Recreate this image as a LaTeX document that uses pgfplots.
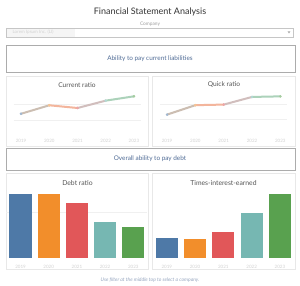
\documentclass[border=0pt]{standalone}
\usepackage{fontspec}
\setmainfont{Lato}
\usepackage{pgfplots}
\pgfplotsset{compat=1.18}
\definecolor{tabblue}{RGB}{78,121,167}
\definecolor{taborange}{RGB}{242,142,43}
\definecolor{tabred}{RGB}{225,87,89}
\definecolor{tabteal}{RGB}{118,183,178}
\definecolor{tabgreen}{RGB}{89,161,79}
\definecolor{pblue}{RGB}{160,184,210}
\definecolor{porange}{RGB}{248,196,146}
\definecolor{pred}{RGB}{238,165,166}
\definecolor{pteal}{RGB}{180,216,213}
\definecolor{pgreen}{RGB}{164,204,158}
\definecolor{titlec}{RGB}{51,51,51}
\definecolor{boxtext}{RGB}{80,108,150}
\definecolor{foot}{RGB}{150,166,192}
\definecolor{panelt}{RGB}{85,85,85}
\pgfplotsset{
  dash/.style={scale only axis, anchor=south west, clip=false,
    axis line style={draw=none}, tick style={draw=none},
    yticklabels={}, xtick={0,1,2,3,4},
    xticklabels={2019,2020,2021,2022,2023},
    x tick label style={font=\fontsize{4.5}{5}\selectfont, text=gray!35},
    ymajorgrids, grid style={gray!12, line width=0.4pt},
    colormap={pastel}{rgb255=(160,184,210) rgb255=(248,196,146) rgb255=(238,165,166) rgb255=(180,216,213) rgb255=(164,204,158)}},
  pastel/.style={mesh, point meta=x, line width=2pt, line cap=round, line join=round},
  pt/.style={only marks, mark=*, mark size=1.1pt, color=#1, mark options={draw=none, fill=#1}},
}
\begin{document}
\begin{tikzpicture}[x=1pt,y=1pt]
\path[use as bounding box, fill=white] (0,0) rectangle (300,285);
% header
\node[font=\fontsize{9}{10}\selectfont, text=titlec] at (150,273) {Financial Statement Analysis};
\node[font=\fontsize{4.8}{5}\selectfont, text=gray!75] at (150,260.5) {Company};
\draw[gray!45, line width=0.4pt] (6.5,248) rectangle (293.5,257);
\fill[gray!8] (7,248.5) rectangle (75,256.5);
\node[font=\fontsize{4.5}{5}\selectfont, text=gray!35, anchor=west] at (9,252.5) {Lorem Ipsum Inc. (LI)};
\fill[gray!70] (287.6,253.6) -- (290.4,253.6) -- (289,251.6) -- cycle;
% section boxes
\draw[gray!65, line width=0.7pt] (6,213) rectangle (295,240);
\node[font=\fontsize{6.4}{7}\selectfont, text=boxtext] at (150,226.5) {Ability to pay current liabilities};
\draw[gray!65, line width=0.7pt] (6,115) rectangle (295,137);
\node[font=\fontsize{6.4}{7}\selectfont, text=boxtext] at (150,126) {Overall ability to pay debt};
% panels
\draw[gray!18, line width=0.5pt] (6,139) rectangle (148,209);
\draw[gray!18, line width=0.5pt] (152,139) rectangle (295,209);
\draw[gray!18, line width=0.5pt] (6,16) rectangle (148,112);
\draw[gray!18, line width=0.5pt] (152,16) rectangle (295,112);
\node[font=\fontsize{6.6}{7}\selectfont, text=panelt] at (77,200) {Current ratio};
\node[font=\fontsize{6.6}{7}\selectfont, text=panelt] at (224,200) {Quick ratio};
\node[font=\fontsize{6.8}{7}\selectfont, text=panelt] at (77.5,102.3) {Debt ratio};
\node[font=\fontsize{6.8}{7}\selectfont, text=panelt] at (223.5,102.3) {Times-interest-earned};
% current ratio
\begin{axis}[dash, at={(14pt,149pt)}, width=127pt, height=46pt,
  xmin=-0.25, xmax=4.25, ymin=0, ymax=2.875, ytick={1,2}]
\addplot[pastel] coordinates {(0,1.39) (1,1.92) (2,1.75) (3,2.21) (4,2.48)};
\addplot[pt=pblue] coordinates {(0,1.39)};
\addplot[pt=porange] coordinates {(1,1.92)};
\addplot[pt=pred] coordinates {(2,1.75)};
\addplot[pt=pteal] coordinates {(3,2.21)};
\addplot[pt=pgreen] coordinates {(4,2.48)};
\end{axis}
% quick ratio
\begin{axis}[dash, at={(160pt,151.6pt)}, width=127.4pt, height=44.1pt,
  xmin=-0.25, xmax=4.25, ymin=0, ymax=1.5, ytick={0.5,1},
  x tick label style={yshift=-2.5pt}]
\addplot[pastel] coordinates {(0,0.64) (1,0.96) (2,0.98) (3,1.24) (4,1.26)};
\addplot[pt=pblue] coordinates {(0,0.64)};
\addplot[pt=porange] coordinates {(1,0.96)};
\addplot[pt=pred] coordinates {(2,0.98)};
\addplot[pt=pteal] coordinates {(3,1.24)};
\addplot[pt=pgreen] coordinates {(4,1.26)};
\end{axis}
% debt ratio
\begin{axis}[dash, at={(6.4pt,26.7pt)}, width=141pt, height=73pt,
  xmin=-0.5, xmax=4.5, ymin=0, ymax=0.8, ytick={0.5},
  x tick label style={yshift=-3.5pt}]
\addplot[ybar, bar width=22pt, bar shift=0pt, fill=tabblue, draw=none] coordinates {(0,0.705)};
\addplot[ybar, bar width=22pt, bar shift=0pt, fill=taborange, draw=none] coordinates {(1,0.705)};
\addplot[ybar, bar width=22pt, bar shift=0pt, fill=tabred, draw=none] coordinates {(2,0.61)};
\addplot[ybar, bar width=22pt, bar shift=0pt, fill=tabteal, draw=none] coordinates {(3,0.40)};
\addplot[ybar, bar width=22pt, bar shift=0pt, fill=tabgreen, draw=none] coordinates {(4,0.345)};
\end{axis}
% times interest earned
\begin{axis}[dash, at={(152.6pt,26.7pt)}, width=141.5pt, height=73pt,
  xmin=-0.5, xmax=4.5, ymin=0, ymax=11.35, ytick=\empty, ymajorgrids=false,
  x tick label style={yshift=-3.5pt}]
\addplot[ybar, bar width=22pt, bar shift=0pt, fill=tabblue, draw=none] coordinates {(0,3.1)};
\addplot[ybar, bar width=22pt, bar shift=0pt, fill=taborange, draw=none] coordinates {(1,3.0)};
\addplot[ybar, bar width=22pt, bar shift=0pt, fill=tabred, draw=none] coordinates {(2,4.14)};
\addplot[ybar, bar width=22pt, bar shift=0pt, fill=tabteal, draw=none] coordinates {(3,7.09)};
\addplot[ybar, bar width=22pt, bar shift=0pt, fill=tabgreen, draw=none] coordinates {(4,10.0)};
\end{axis}
\node[font=\fontsize{5}{6}\itshape, text=foot] at (150,5) {Use filter at the middle top to select a company.};
\end{tikzpicture}
\end{document}
